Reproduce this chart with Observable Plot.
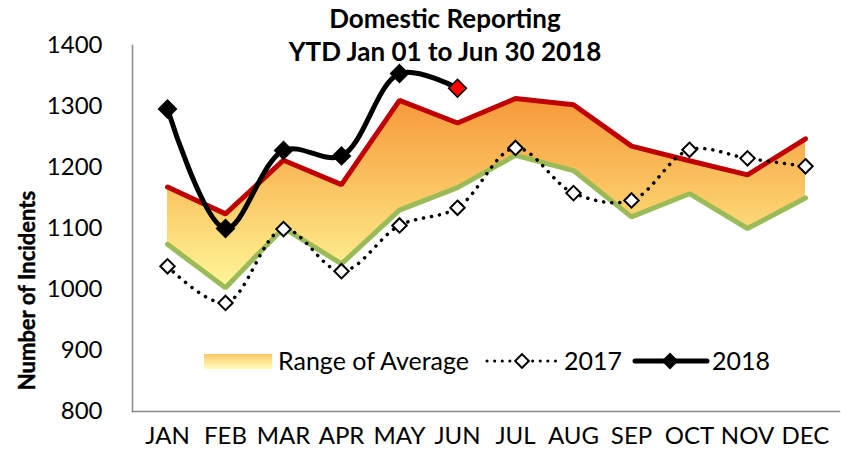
<!DOCTYPE html>
<html>
<head>
<meta charset="utf-8">
<script src="https://cdn.jsdelivr.net/npm/d3@7"></script>
<script src="https://cdn.jsdelivr.net/npm/@observablehq/plot@0.6"></script>
<style>
  html, body { margin: 0; padding: 0; background: #fff; }
  #wrap { position: relative; width: 851px; height: 459px; font-family: Lato, "Open Sans", sans-serif; }
  #title { position: absolute; left: 195px; width: 500px; top: 2px; text-align: center;
           font-weight: bold; font-size: 26px; line-height: 33px; color: #000; z-index: 2; }
  #chart { position: absolute; left: 0; top: 0; }
</style>
</head>
<body>
<div id="wrap">
  <div id="chart"></div>
  <div id="title">Domestic Reporting<br>YTD Jan 01 to Jun 30 2018</div>
</div>
<script>
const months = ["JAN","FEB","MAR","APR","MAY","JUN","JUL","AUG","SEP","OCT","NOV","DEC"];
const rangeHigh = [1168, 1124, 1212, 1172, 1310, 1273, 1313, 1303, 1235, 1211, 1188, 1247];
const rangeLow  = [1074, 1003, 1101, 1042, 1130, 1167, 1220, 1195, 1119, 1157, 1100, 1150];
const y2017     = [1038, 978, 1099, 1030, 1105, 1134, 1232, 1158, 1146, 1229, 1215, 1202];
const y2018     = [1296, 1100, 1228, 1219, 1354, 1330];
const yTicks    = [800, 900, 1000, 1100, 1200, 1300, 1400];
const legendLabels = ["Range of Average", "2017", "2018"];

const rangeData = months.map((m, i) => ({month: m, lo: rangeLow[i], hi: rangeHigh[i]}));
const data2017 = months.map((m, i) => ({month: m, value: y2017[i]}));
const data2018 = y2018.map((v, i) => ({month: months[i], value: v, last: i === y2018.length - 1}));

const gradDefs = () => {
  const defs = d3.create("svg:defs");
  const g = defs.append("linearGradient").attr("id", "rangeGrad")
    .attr("x1", 0).attr("y1", 0).attr("x2", 0).attr("y2", 1);
  g.append("stop").attr("offset", "0%").attr("stop-color", "#f7983a");
  g.append("stop").attr("offset", "50%").attr("stop-color", "#fbc764");
  g.append("stop").attr("offset", "100%").attr("stop-color", "#fff799");
  const g2 = defs.append("linearGradient").attr("id", "legendGrad")
    .attr("x1", 0).attr("y1", 0).attr("x2", 0).attr("y2", 1);
  g2.append("stop").attr("offset", "0%").attr("stop-color", "#fcc463");
  g2.append("stop").attr("offset", "40%").attr("stop-color", "#fee08a");
  g2.append("stop").attr("offset", "100%").attr("stop-color", "#fffbc0");
  return defs.node();
};

const plot = Plot.plot({
  width: 851,
  height: 459,
  marginLeft: 132,
  marginRight: 12,
  marginTop: 45,
  marginBottom: 48,
  style: {fontFamily: "Lato, 'Open Sans', sans-serif", fontSize: "24px", color: "#000", background: "transparent", overflow: "visible"},
  x: {type: "point", domain: months, padding: 0.5, label: null, tickSize: 0, tickPadding: 15},
  y: {domain: [800, 1400], ticks: yTicks, tickFormat: d3.format("d"), label: null, tickSize: 0, tickPadding: 30},
  marks: [
    gradDefs,
    Plot.areaY(rangeData, {x: "month", y1: "lo", y2: "hi", fill: "url(#rangeGrad)"}),
    Plot.lineY(rangeData, {x: "month", y: "hi", stroke: "#c00000", strokeWidth: 5, strokeLinejoin: "miter"}),
    Plot.lineY(rangeData, {x: "month", y: "lo", stroke: "#9bbb59", strokeWidth: 5, strokeLinejoin: "miter"}),
    Plot.lineY(data2017, {x: "month", y: "value", curve: "catmull-rom", stroke: "#000", strokeWidth: 3.5,
      strokeDasharray: "0.1 8", strokeLinecap: "round"}),
    Plot.dot(data2017, {x: "month", y: "value", symbol: "diamond2", r: 6.5, fill: "#fff", stroke: "#000", strokeWidth: 2}),
    Plot.lineY(data2018, {x: "month", y: "value", curve: "catmull-rom", stroke: "#000", strokeWidth: 5}),
    Plot.dot(data2018, {x: "month", y: "value", symbol: "diamond2", r: 8,
      fill: d => d.last ? "#ff0000" : "#000", stroke: "#000", strokeWidth: 1.5}),
    Plot.frame({anchor: "left", stroke: "#888", strokeWidth: 1.5}),
    Plot.frame({anchor: "bottom", stroke: "#888", strokeWidth: 1.5}),
    Plot.text(["Number of Incidents"], {frameAnchor: "left", textAnchor: "middle", dx: -105, dy: 62, rotate: -90,
      fontWeight: 700, fontSize: 22, stroke: "#000", strokeWidth: 0.4, fill: "#000", text: d => d})
  ]
});

// legend
const svg = d3.select(plot);
const lg = svg.append("g").attr("font-family", "Lato, 'Open Sans', sans-serif").attr("font-size", 25)
  .attr("text-anchor", "start").attr("fill", "#000");
const ly = 361;
lg.append("rect").attr("x", 204).attr("y", 354).attr("width", 68).attr("height", 15).attr("fill", "url(#legendGrad)");
lg.append("text").attr("x", 278).attr("y", ly).attr("dy", "0.35em").text(legendLabels[0]);
lg.append("line").attr("x1", 487).attr("x2", 556).attr("y1", ly).attr("y2", ly)
  .attr("stroke", "#000").attr("stroke-width", 3).attr("stroke-dasharray", "0.1 7.5").attr("stroke-linecap", "round");
lg.append("path").attr("d", d3.symbol(d3.symbolSquare2, 120)()).attr("transform", `translate(522,${ly}) rotate(45)`)
  .attr("fill", "#fff").attr("stroke", "#000").attr("stroke-width", 2);
lg.append("text").attr("x", 564).attr("y", ly).attr("dy", "0.35em").text(legendLabels[1]);
lg.append("line").attr("x1", 635).attr("x2", 707).attr("y1", ly).attr("y2", ly)
  .attr("stroke", "#000").attr("stroke-width", 5).attr("stroke-linecap", "round");
lg.append("path").attr("d", d3.symbol(d3.symbolSquare2, 180)()).attr("transform", `translate(670,${ly}) rotate(45)`)
  .attr("fill", "#000");
lg.append("text").attr("x", 712).attr("y", ly).attr("dy", "0.35em").text(legendLabels[2]);

document.getElementById("chart").appendChild(plot);
</script>
</body>
</html>
